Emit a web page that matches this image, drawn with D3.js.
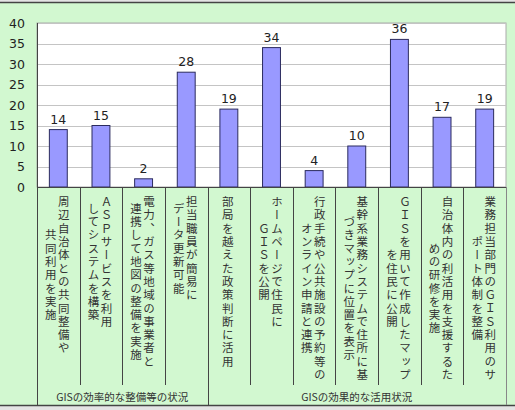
<!DOCTYPE html>
<html>
<head>
<meta charset="utf-8">
<script src="https://cdn.jsdelivr.net/npm/d3@7"></script>
<style>
  body { margin: 0; background: #fff; }
  svg { display: block; }
</style>
</head>
<body>
<div id="chart"></div>
<script>
// chart data
var categories = [
    ["周辺自治体との共同整備や", "共同利用を実施"],
    ["ＡＳＰサービスを利用", "してシステムを構築"],
    ["電力、ガス等地域の事業者と", "連携して地図の整備を実施"],
    ["担当職員が簡易に", "データ更新可能"],
    ["部局を越えた政策判断に活用"],
    ["ホームページで住民に", "ＧＩＳを公開"],
    ["行政手続や公共施設の予約等の", "オンライン申請と連携"],
    ["基幹系業務システムで住所に基", "づきマップに位置を表示"],
    ["ＧＩＳを用いて作成したマップ", "を住民に公開"],
    ["自治体内の利活用を支援するた", "めの研修を実施"],
    ["業務担当部門のＧＩＳ利用のサ", "ポート体制を整備"]
];
var values = [14, 15, 2, 28, 19, 34, 4, 10, 36, 17, 19];
var groupLabels = ["GISの効率的な整備等の状況", "GISの効果的な活用状況"];
var groupSizes = [4, 7];
var yTicks = [0, 5, 10, 15, 20, 25, 30, 35, 40];

var width = 515, height = 410;
var plot = {left: 37, right: 506, top: 23, bottom: 187};

var svg = d3.select("#chart")
    .append("svg")
    .attr("width", width)
    .attr("height", height);

// background
svg.append("rect")
    .attr("x", 0).attr("y", 0)
    .attr("width", width).attr("height", height)
    .attr("fill", "#e4e4e4");
svg.append("rect")
    .attr("x", 0).attr("y", 2)
    .attr("width", width).attr("height", 404)
    .attr("fill", "#d2f8d0");
svg.append("line")
    .attr("x1", 0).attr("x2", width)
    .attr("y1", 2.5).attr("y2", 2.5)
    .attr("stroke", "#444").attr("stroke-width", 1.5);
svg.append("line")
    .attr("x1", 0).attr("x2", width)
    .attr("y1", 405.5).attr("y2", 405.5)
    .attr("stroke", "#444").attr("stroke-width", 1.5);

// plot area
svg.append("rect")
    .attr("x", plot.left).attr("y", plot.top)
    .attr("width", plot.right - plot.left)
    .attr("height", plot.bottom - plot.top)
    .attr("fill", "#fff")
    .attr("stroke", "#aaa");

var idx = d3.range(values.length);

var xScale = d3.scaleBand()
    .domain(idx)
    .range([plot.left, plot.right])
    .paddingInner(0.58)
    .paddingOuter(0.29);

var yScale = d3.scaleLinear()
    .domain([0, 40])
    .range([plot.bottom, plot.top]);

var step = xScale.step();

// gridlines
svg.append("g")
    .selectAll("line")
    .data(yTicks.filter(d => d > 0))
    .enter()
    .append("line")
    .attr("x1", plot.left).attr("x2", plot.right)
    .attr("y1", d => Math.round(yScale(d)) + 0.5)
    .attr("y2", d => Math.round(yScale(d)) + 0.5)
    .attr("stroke", "#c4c4c4");

// y axis
var yAxis = d3.axisLeft(yScale)
    .tickValues(yTicks)
    .tickSize(0)
    .tickPadding(12);

var yg = svg.append("g")
    .attr("transform", `translate(${plot.left}, 0)`)
    .call(yAxis);
yg.select(".domain").remove();
yg.selectAll("text")
    .attr("font-family", "DejaVu Sans, sans-serif")
    .attr("font-size", 12.5)
    .attr("fill", "#222");

// bars
svg.append("g")
    .selectAll("rect")
    .data(values)
    .enter()
    .append("rect")
    .attr("x", (d, i) => xScale(i))
    .attr("y", d => yScale(d))
    .attr("width", xScale.bandwidth())
    .attr("height", d => yScale(0) - yScale(d))
    .attr("fill", "#9999ff")
    .attr("stroke", "#2b2b5e")
    .attr("stroke-width", 1);

// value labels
svg.append("g")
    .selectAll("text")
    .data(values)
    .enter()
    .append("text")
    .attr("x", (d, i) => xScale(i) + xScale.bandwidth() / 2)
    .attr("y", d => yScale(d) - 6)
    .attr("text-anchor", "middle")
    .attr("font-family", "DejaVu Sans, sans-serif")
    .attr("font-size", 12.5)
    .attr("fill", "#222")
    .text(d => d);

// axis lines
svg.append("line")
    .attr("x1", plot.left + 0.5).attr("x2", plot.left + 0.5)
    .attr("y1", plot.top).attr("y2", 405)
    .attr("stroke", "#444");
svg.append("line")
    .attr("x1", plot.left).attr("x2", plot.right)
    .attr("y1", plot.bottom + 0.5).attr("y2", plot.bottom + 0.5)
    .attr("stroke", "#444");
svg.append("line")
    .attr("x1", plot.right + 0.5).attr("x2", plot.right + 0.5)
    .attr("y1", plot.bottom).attr("y2", 405)
    .attr("stroke", "#888");

// category dividers
var cumGroups = d3.cumsum(groupSizes);
svg.append("g")
    .selectAll("line")
    .data(d3.range(1, values.length))
    .enter()
    .append("line")
    .attr("x1", d => Math.round(plot.left + d * step) + 0.5)
    .attr("x2", d => Math.round(plot.left + d * step) + 0.5)
    .attr("y1", plot.bottom)
    .attr("y2", d => cumGroups.includes(d) ? 405 : 385)
    .attr("stroke", "#444");

// category labels (vertical)
var charH = 13.3, colW = 13, blockTop = 196;
categories.forEach(function(lines, i) {
    var cx = xScale(i) + xScale.bandwidth() / 2 - 1;
    var maxLen = d3.max(lines, l => l.length);
    var cy = blockTop + maxLen * charH / 2;
    lines.forEach(function(line, j) {
        svg.append("text")
            .attr("x", cx + (lines.length - 1) / 2 * colW - j * colW)
            .attr("y", cy)
            .attr("text-anchor", "middle")
            .style("writing-mode", "vertical-rl")
            .style("text-orientation", "upright")
            .style("letter-spacing", "1.8px")
            .attr("font-family", "Noto Sans CJK JP, sans-serif")
            .attr("font-size", 11.5)
            .attr("fill", "#333")
            .text(line);
    });
});

// group labels
var start = 0;
groupLabels.forEach(function(label, g) {
    var x0 = plot.left + start * step;
    var x1 = plot.left + (start + groupSizes[g]) * step;
    svg.append("text")
        .attr("x", (x0 + x1) / 2)
        .attr("y", 401)
        .attr("text-anchor", "middle")
        .attr("font-family", "Noto Sans CJK JP, sans-serif")
        .attr("font-size", 10.5)
        .attr("fill", "#333")
        .text(label);
    start += groupSizes[g];
});
</script>
</body>
</html>
